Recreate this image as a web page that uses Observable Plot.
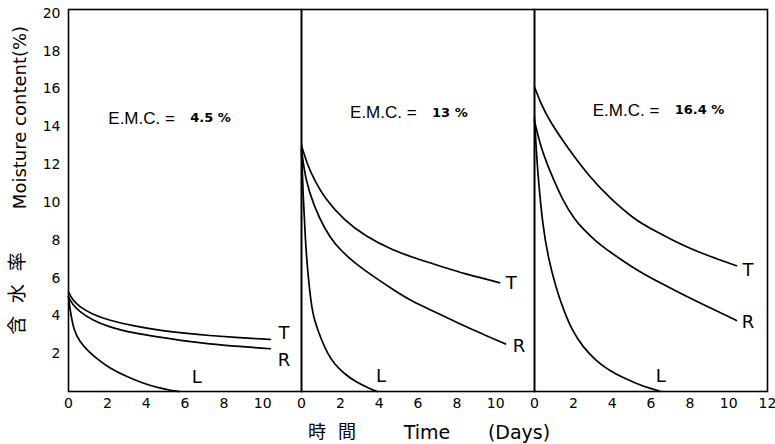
<!DOCTYPE html>
<html><head><meta charset="utf-8">
<script src="https://cdn.jsdelivr.net/npm/d3@7"></script>
<script src="https://cdn.jsdelivr.net/npm/@observablehq/plot@0.6"></script>
<style>body{margin:0;background:#fff;}</style>
</head><body><div id="chart"></div>
<script>
// Panels (equilibrium moisture content)
const panels = ["4.5", "13", "16.4"];
const emcValues = ["4.5 %", "13 %", "16.4 %"];
const series = ["T", "R", "L"];
const yTicks = [2, 4, 6, 8, 10, 12, 14, 16, 18, 20];
const xTicksPanel1 = [0, 2, 4, 6, 8, 10];
const xTicksPanel2 = [0, 2, 4, 6, 8, 10];
const xTicksPanel3 = [0, 2, 4, 6, 8, 10, 12];

// Curves: [time (days), moisture content (%)]
const p1_T = [[0,5.25],[0.2,4.85],[0.6,4.46],[1.2,4.1],[2.1,3.76],[3.3,3.48],[4.7,3.23],[6,3.08],[7.2,2.96],[8.8,2.85],[10.4,2.75]];
const p1_R = [[0,5.0],[0.2,4.6],[0.6,4.2],[1.2,3.8],[2.1,3.4],[3.3,3.1],[4.7,2.87],[6,2.67],[7.2,2.52],[8.8,2.38],[10.4,2.26]];
const p1_L = [[0,5.0],[0.07,4.4],[0.27,3.2],[0.6,2.6],[1,2.15],[1.5,1.7],[2.1,1.25],[3,0.78],[3.8,0.45],[4.6,0.2],[5.3,0.05],[5.7,0]];

const p2_T = [[0,13.0],[0.3,12.0],[0.66,11.2],[1.2,10.2],[2.2,9.05],[3.3,8.2],[4.7,7.46],[6,7.0],[7.3,6.58],[8.5,6.2],[9.5,5.95],[10.2,5.75]];
const p2_R = [[0,12.8],[0.2,11.2],[0.66,9.75],[1.2,8.6],[1.7,7.8],[2.5,7.0],[3.2,6.45],[3.9,5.95],[4.7,5.4],[5.6,4.81],[7,4.15],[8.15,3.58],[9.3,3.05],[10.5,2.52]];
const p2_L = [[0,12.8],[0.1,10.0],[0.2,8.0],[0.32,6.3],[0.5,4.6],[0.66,3.76],[1,2.8],[1.34,2.0],[1.7,1.45],[2.2,0.94],[2.8,0.5],[3.55,0.14],[3.9,0]];

const p3_T = [[0,16.1],[0.3,15.3],[0.77,14.3],[1.8,12.75],[2.8,11.4],[3.9,10.2],[5.2,9.05],[6.2,8.5],[7.2,7.95],[8.25,7.46],[9.3,7.05],[10.4,6.65]];
const p3_R = [[0,14.3],[0.3,13.0],[0.77,11.7],[1.45,10.1],[2.1,9.05],[2.5,8.6],[3.2,7.9],[4.0,7.3],[5.2,6.45],[6.55,5.7],[7.6,5.15],[8.6,4.64],[9.5,4.2],[10.4,3.76]];
const p3_L = [[0,14.5],[0.1,12.6],[0.2,11.2],[0.42,8.8],[0.7,7.1],[1.1,5.5],[1.5,4.3],[1.95,3.2],[2.5,2.35],[3.15,1.64],[3.9,1.07],[4.7,0.67],[5.4,0.35],[6.05,0.14],[6.5,0]];

// Curve label anchors [panel, series, time, moisture]
const curveLabels = [
  ["4.5","T",11.1,3.1],["4.5","R",11.1,1.64],["4.5","L",6.6,0.75],
  ["13","T",10.8,5.7],["13","R",11.2,2.4],["13","L",4.1,0.8],
  ["16.4","T",11.0,6.4],["16.4","R",11.0,3.65],["16.4","L",6.5,0.8]
];
// E.M.C. annotation anchors [panel, time, moisture]
const emcAnchors = [["4.5",2.05,14.45],["13",2.5,14.76],["16.4",3.0,14.87]];

const curves = [[p1_T,p1_R,p1_L],[p2_T,p2_R,p2_L],[p3_T,p3_R,p3_L]];
const rows = [];
panels.forEach((p, i) => series.forEach((s, j) => curves[i][j].forEach(([t, v]) => rows.push({panel: p, series: s, t, v}))));
const xTickRows = [xTicksPanel1, xTicksPanel2, xTicksPanel3].flatMap((ts, i) => ts.map(t => ({panel: panels[i], t})));
const labelRows = curveLabels.map(([panel, s, t, v]) => ({panel, s, t, v}));
const emcRows = emcAnchors.map(([panel, t, v], i) => ({panel, t, v, value: emcValues[i]}));

const font = "'DejaVu Sans','Noto Sans CJK JP',sans-serif";
const cjk = "'Noto Sans CJK JP',sans-serif";
const chart = Plot.plot({
  width: 775, height: 444,
  marginLeft: 68, marginRight: 8, marginTop: 9, marginBottom: 53,
  x: {domain: [0, 12], axis: null},
  y: {domain: [0, 20.2]},
  fx: {domain: panels, padding: 0, axis: null},
  style: {fontFamily: font, fontSize: "14px", background: "white", color: "black"},
  marks: [
    Plot.frame({stroke: "black", strokeWidth: 1.6}),
    Plot.axisY(yTicks, {tickSize: 0, tickPadding: 8, label: null, fontSize: 14}),
    Plot.line(rows, {x: "t", y: "v", z: "series", fx: "panel", curve: "basis", stroke: "black", strokeWidth: 1.7}),
    Plot.text(xTickRows, {x: "t", fx: "panel", frameAnchor: "bottom", lineAnchor: "middle", dy: 12, text: d => String(d.t), fontSize: 14}),
    Plot.text(labelRows, {x: "t", y: "v", fx: "panel", text: "s", fontSize: 18}),
    Plot.text(emcRows, {x: "t", y: "v", fx: "panel", text: () => "E.M.C. =", textAnchor: "start", fontSize: 17, fontFamily: "'Liberation Sans',sans-serif"}),
    Plot.text(emcRows, {x: "t", y: "v", fx: "panel", text: "value", textAnchor: "start", dx: 82, fontSize: 13, fontWeight: "bold"}),
    Plot.text([{panel: "4.5"}], {fx: "panel", frameAnchor: "left", textAnchor: "middle", lineAnchor: "middle", rotate: -90, dx: -48, dy: -83, text: () => "Moisture content(%)", fontSize: 18}),
    Plot.text([{panel: "4.5"}], {fx: "panel", frameAnchor: "left", textAnchor: "middle", lineAnchor: "middle", rotate: -90, dx: -51, dy: 93, text: () => "含\u00a0\u00a0\u00a0水\u00a0\u00a0\u00a0率", fontSize: 19, fontFamily: cjk}),
    Plot.text([{panel: "13"}], {fx: "panel", frameAnchor: "bottom", textAnchor: "middle", lineAnchor: "middle", dx: -86, dy: 41, text: () => "時\u00a0\u00a0\u00a0間", fontSize: 18, fontFamily: cjk}),
    Plot.text([{panel: "13"}], {fx: "panel", frameAnchor: "bottom", textAnchor: "middle", lineAnchor: "middle", dx: 9, dy: 41, text: () => "Time", fontSize: 19}),
    Plot.text([{panel: "13"}], {fx: "panel", frameAnchor: "bottom", textAnchor: "middle", lineAnchor: "middle", dx: 101, dy: 41, text: () => "(Days)", fontSize: 19})
  ]
});
document.getElementById("chart").appendChild(chart);
</script>
</body></html>
